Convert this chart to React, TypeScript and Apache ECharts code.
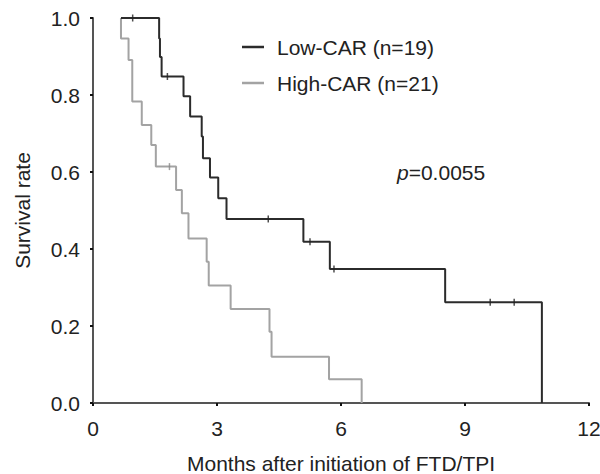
import React, { useEffect, useRef } from "react";
import * as echarts from "echarts";

// Low-CAR (n=19) Kaplan-Meier steps: start point, then survival after each event
const lowTimes = [0.677, 1.6, 1.62, 1.66, 2.19, 2.35, 2.63, 2.66, 2.83, 3.03, 3.23, 5.09, 5.73, 8.52, 10.86];
const lowSurv = [1.0, 0.947, 0.899, 0.848, 0.797, 0.744, 0.692, 0.636, 0.586, 0.532, 0.478, 0.419, 0.348, 0.262, 0.0];
const lowCensorTimes = [0.96, 1.8, 4.24, 5.25, 5.83, 9.61, 10.19];
const lowCensorSurv = [1.0, 0.848, 0.478, 0.419, 0.348, 0.262, 0.262];

// High-CAR (n=21)
const highTimes = [0.677, 0.677, 0.86, 0.95, 1.18, 1.41, 1.52, 2.01, 2.15, 2.31, 2.75, 2.8, 3.33, 4.27, 4.32, 5.71, 6.5];
const highSurv = [1.0, 0.947, 0.891, 0.783, 0.722, 0.67, 0.614, 0.553, 0.493, 0.427, 0.367, 0.305, 0.244, 0.185, 0.12, 0.062, 0.0];
const highCensorTimes = [1.85];
const highCensorSurv = [0.614];

const xTicks = [0, 3, 6, 9, 12];
const yTicks = [0, 0.2, 0.4, 0.6, 0.8, 1.0];

const legendLabels = ["Low-CAR (n=19)", "High-CAR (n=21)"];
const pValue = "0.0055";

const LOW_COLOR = "#2b2b2b";
const HIGH_COLOR = "#a3a3a3";
const FONT = "Liberation Sans";
const FS = 21;

export default function App() {
  const ref = useRef<HTMLDivElement>(null);
  useEffect(() => {
    document.body.style.margin = "0";
    const chart = echarts.init(ref.current!, null, { renderer: "svg" });
    const zip = (a: number[], b: number[]) => a.map((v, i) => [v, b[i]]);
    chart.setOption({
      animation: false,
      backgroundColor: "#ffffff",
      grid: { left: 93, right: 11, top: 18, bottom: 71, containLabel: false, outerBoundsMode: "none" },
      xAxis: {
        type: "value",
        min: xTicks[0],
        max: xTicks[xTicks.length - 1],
        interval: 3,
        name: "Months after initiation of FTD/TPI",
        nameLocation: "middle",
        nameGap: 50,
        nameTextStyle: { fontFamily: FONT, fontSize: FS, color: "#222" },
        axisLine: { lineStyle: { color: "#555", width: 2 } },
        axisTick: { show: true, length: 3, lineStyle: { color: "#111", width: 2 } },
        axisLabel: { fontFamily: FONT, fontSize: FS, color: "#222", margin: 15 },
        splitLine: { show: false },
      },
      yAxis: {
        type: "value",
        min: yTicks[0],
        max: yTicks[yTicks.length - 1],
        interval: 0.2,
        name: "Survival rate",
        nameLocation: "middle",
        nameGap: 60,
        nameTextStyle: { fontFamily: FONT, fontSize: FS, color: "#222" },
        axisLine: { show: true, lineStyle: { color: "#555", width: 2 } },
        axisTick: { show: true, length: 3, lineStyle: { color: "#111", width: 2 } },
        axisLabel: {
          fontFamily: FONT,
          fontSize: FS,
          color: "#222",
          margin: 13,
          formatter: (v: number) => v.toFixed(1),
        },
        splitLine: { show: false },
      },
      series: [
        {
          type: "line",
          name: legendLabels[1],
          step: "end",
          data: zip(highTimes, highSurv),
          showSymbol: false,
          lineStyle: { color: HIGH_COLOR, width: 2 },
          z: 2,
        },
        {
          type: "line",
          name: legendLabels[0],
          step: "end",
          data: zip(lowTimes, lowSurv),
          showSymbol: false,
          lineStyle: { color: LOW_COLOR, width: 2 },
          z: 3,
        },
        {
          type: "scatter",
          data: zip(highCensorTimes, highCensorSurv),
          symbol: "rect",
          symbolSize: [1.5, 7],
          itemStyle: { color: "#888" },
          z: 4,
        },
        {
          type: "scatter",
          data: zip(lowCensorTimes, lowCensorSurv),
          symbol: "rect",
          symbolSize: [1.5, 7],
          itemStyle: { color: "#222" },
          z: 5,
        },
      ],
      graphic: [
        { type: "line", shape: { x1: 242, y1: 47, x2: 264, y2: 47 }, style: { stroke: LOW_COLOR, lineWidth: 2.5 } },
        { type: "text", x: 277, y: 47, style: { text: legendLabels[0], font: `${FS}px ${FONT}`, fill: "#222", verticalAlign: "middle" } },
        { type: "line", shape: { x1: 242, y1: 83, x2: 264, y2: 83 }, style: { stroke: HIGH_COLOR, lineWidth: 2.5 } },
        { type: "text", x: 277, y: 83, style: { text: legendLabels[1], font: `${FS}px ${FONT}`, fill: "#222", verticalAlign: "middle" } },
        {
          type: "text",
          x: 397,
          y: 172,
          style: {
            text: "{i|p}=" + pValue,
            font: `${FS}px ${FONT}`,
            fill: "#222",
            verticalAlign: "middle",
            rich: { i: { fontStyle: "italic", fontFamily: FONT, fontSize: FS, fill: "#222" } },
          },
        },
      ],
    });
    return () => chart.dispose();
  }, []);
  return <div ref={ref} style={{ width: 600, height: 474 }} />;
}
